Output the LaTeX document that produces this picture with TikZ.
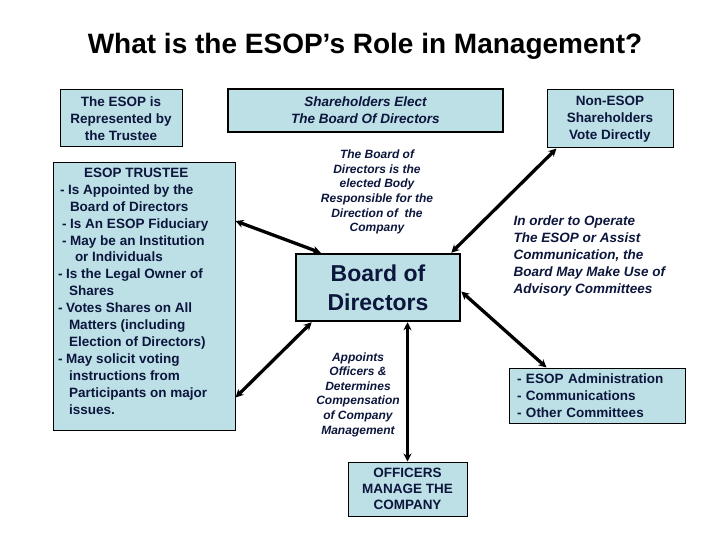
\documentclass[tikz,border=0pt]{standalone}
\usepackage{fontspec}
\setmainfont{Liberation Sans}
\usetikzlibrary{arrows.meta}
\definecolor{boxblue}{RGB}{189,224,230}
\definecolor{inkblue}{RGB}{12,22,60}

\begin{document}
\begin{tikzpicture}[x=1pt,y=-1pt,
    box/.style={draw, fill=boxblue, line width=1pt, text=inkblue, align=center, inner sep=0pt,
      font=\bfseries\fontsize{13.5}{16.9}\selectfont},
    bigbox/.style={box, line width=2.5pt},
    note/.style={text=inkblue, align=center, font=\bfseries\itshape\fontsize{12}{14.6}\selectfont},
    link/.style={line width=3.3pt, {Stealth[length=8pt,width=8pt]}-{Stealth[length=8pt,width=8pt]}}]
  \useasboundingbox (0,0) rectangle (720,540);

  \node[font=\bfseries\fontsize{28}{32}\selectfont] (title) at (365,46) {What is the ESOP’s Role in Management?};

  \node[box, minimum width=122pt, minimum height=57pt] (esop) at (121,118.5) {The ESOP is\\Represented by\\the Trustee};
  % trustee text sits at the top of its box
  \node[box, inner xsep=5pt, inner ysep=5pt] (trustee) at (144,296.5)
    {\parbox[c][257pt][t]{172pt}{\raggedright
     \hspace*{26pt}ESOP TRUSTEE\\
     \hspace*{2pt}- Is Appointed by the\\
     \hspace*{12pt}Board of Directors\\
     \hspace*{4pt}- Is An ESOP Fiduciary\\
     \hspace*{4pt}- May be an Institution\\
     \hspace*{17pt}or Individuals\\
     - Is the Legal Owner of\\
     \hspace*{11pt}Shares\\
     - Votes Shares on All\\
     \hspace*{11pt}Matters (including\\
     \hspace*{11pt}Election of Directors)\\
     - May solicit voting\\
     \hspace*{11pt}instructions from\\
     \hspace*{11pt}Participants on major\\
     \hspace*{11pt}issues.}};

  \node[bigbox, minimum width=275pt, minimum height=43pt, font=\bfseries\itshape\fontsize{13.5}{16.9}\selectfont] (elect) at (365.5,110.5)
    {Shareholders Elect\\The Board Of Directors};
  \node[box, minimum width=126pt, minimum height=58pt] (nonesop) at (610,119) {Non-ESOP\\Shareholders\\Vote Directly};

  \node[note] (bodytext) at (377,192) {The Board of\\Directors is the\\elected Body\\Responsible for the\\Direction of~ the\\Company};
  \node[bigbox, minimum width=164pt, minimum height=67pt, font=\bfseries\fontsize{23}{29}\selectfont] (board) at (378,287.5) {Board of\\Directors};
  \node[note, anchor=west, align=left, font=\bfseries\itshape\fontsize{13.5}{17}\selectfont] (usetext) at (510,256)
    {In order to Operate\\The ESOP or Assist\\Communication, the\\Board May Make Use of\\Advisory Committees};

  \node[note] (appoint) at (358,394.5) {Appoints\\Officers \&\\Determines\\Compensation\\of Company\\Management};
  \node[box, minimum width=176pt, minimum height=55pt, text width=160pt, align=left] (committees) at (597,395.5)
    {- ESOP Administration\\- Communications\\- Other Committees};
  \node[box, minimum width=119pt, minimum height=54pt, font=\bfseries\fontsize{13.5}{16}\selectfont] (officers) at (407.5,489)
    {OFFICERS\\MANAGE THE\\COMPANY};

  \draw[link] ([xshift=26pt]board.north west) -- ([yshift=75.5pt]trustee.east);
  \draw[link] ([xshift=17pt]board.south west) -- ([yshift=-101pt]trustee.east);
  \draw[link] ([xshift=-10pt]board.north east) -- ([xshift=10pt]nonesop.south west);
  \draw[link] ([yshift=-4pt]board.east) -- ([xshift=38pt]committees.north west);
  \draw[link] (officers.north |- board.south) -- (officers.north);
\end{tikzpicture}
\end{document}
